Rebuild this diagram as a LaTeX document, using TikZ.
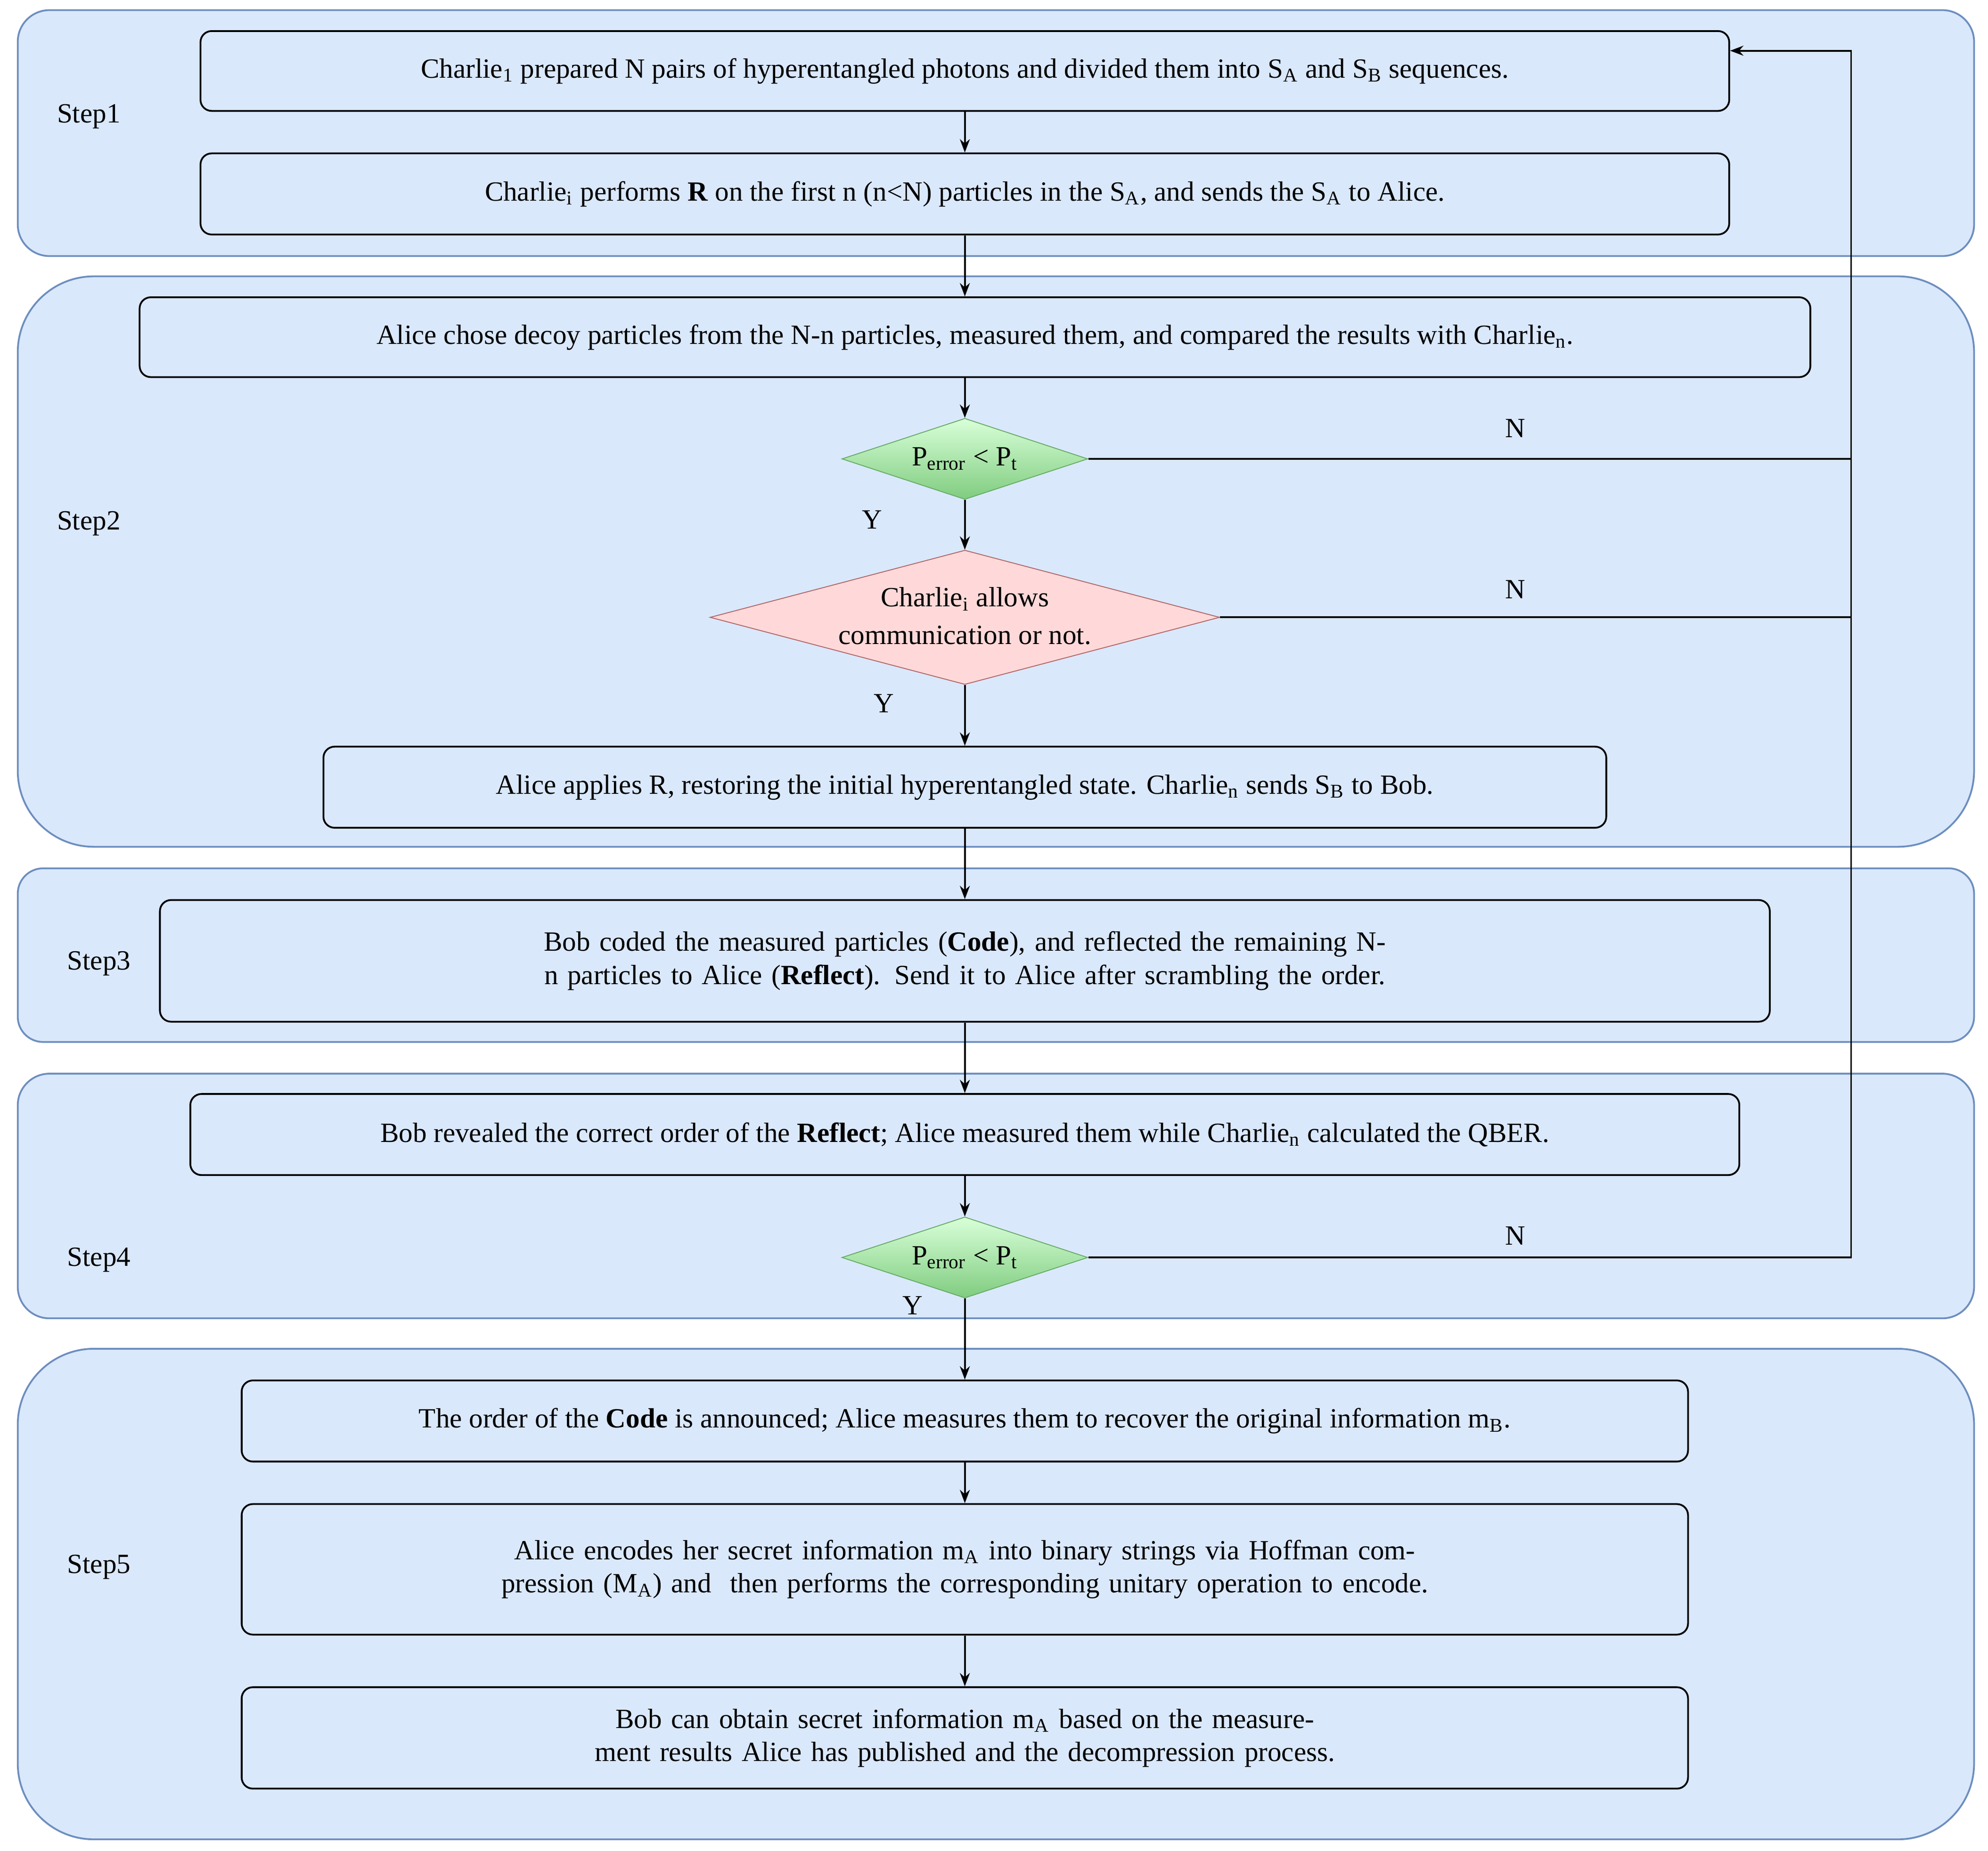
\documentclass[tikz,border=0pt]{standalone}
\usepackage{fontspec}
\setmainfont{Liberation Serif}
\usetikzlibrary{shapes.geometric,arrows.meta}
\definecolor{stepfill}{HTML}{DAE8FC}
\definecolor{stepdraw}{HTML}{6C8EBF}
\begin{document}
\begin{tikzpicture}[x=0.02cm,y=-0.02cm,
  every node/.style={font=\fontsize{12.5}{15}\selectfont},
  panel/.style={fill=stepfill,draw=stepdraw,line width=0.8pt},
  box/.style={draw=black,fill=stepfill,rounded corners=5pt,line width=0.8pt,align=center,inner sep=2pt},
  gdia/.style={diamond,draw=green!45!black!60,top color=green!15!white,bottom color=green!60!black!50,shading angle=0,
     minimum width=3.88cm,minimum height=1.28cm,inner sep=0pt,aspect=3},
  arr/.style={-{Stealth[length=6pt]},line width=0.8pt},
  ln/.style={line width=0.8pt}]
\useasboundingbox (0,0) rectangle (1568,1460);
% step panels
\draw[panel,rounded corners=0.5cm] (14,8) rectangle (1557,202);
\draw[panel,rounded corners=1.2cm] (14,218) rectangle (1557,668);
\draw[panel,rounded corners=0.4cm] (14,685) rectangle (1557,822);
\draw[panel,rounded corners=0.5cm] (14,847) rectangle (1557,1040);
\draw[panel,rounded corners=1.2cm] (14,1064) rectangle (1557,1451);
\node (s1) at (70,92) {Step1};
\node (s2) at (70,413) {Step2};
\node (s3) at (78,760) {Step3};
\node (s4) at (78,994) {Step4};
\node (s5) at (78,1236) {Step5};
% boxes
\node[box,minimum width=24.12cm,minimum height=1.26cm] (b1) at (761,56) {Charlie\textsubscript{1} prepared N pairs of hyperentangled photons and divided them into S\textsubscript{A} and S\textsubscript{B} sequences.};
\node[box,minimum width=24.12cm,minimum height=1.28cm] (b2) at (761,153) {Charlie\textsubscript{i} performs \textbf{R} on the first n (n<N) particles in the S\textsubscript{A}, and sends the S\textsubscript{A} to Alice.};
\node[box,minimum width=26.36cm,minimum height=1.26cm] (b3) at (769,266) {Alice chose decoy particles from the N-n particles, measured them, and compared the results with Charlie\textsubscript{n}.};
\node[gdia] (d1) at (761,362) {P\textsubscript{error} < P\textsubscript{t}};
\node[diamond,draw=red!50!black!60,fill=red!15,minimum width=8.04cm,minimum height=2.12cm,inner sep=0pt,aspect=3.8,align=center] (d2) at (761,487) {};
\node[align=center] (d2t) at (761,486) {Charlie\textsubscript{i} allows\\[2pt]communication or not.};
\node[box,minimum width=20.24cm,minimum height=1.28cm] (b4) at (761,621) {Alice applies R, restoring the initial hyperentangled state. Charlie\textsubscript{n} sends S\textsubscript{B} to Bob.};
\node[box,minimum width=25.4cm,minimum height=1.92cm,text width=25.2cm] (b5) at (761,758) {Bob coded the measured particles (\textbf{Code}), and reflected the remaining N-n particles to Alice (\textbf{Reflect}). Send it to Alice after scrambling the order.};
\node[box,minimum width=24.44cm,minimum height=1.28cm] (b6) at (761,895) {Bob revealed the correct order of the \textbf{Reflect}; Alice measured them while Charlie\textsubscript{n} calculated the QBER.};
\node[gdia] (d3) at (761,992) {P\textsubscript{error} < P\textsubscript{t}};
\node[box,minimum width=22.82cm,minimum height=1.28cm] (b7) at (761,1121) {The order of the \textbf{Code} is announced; Alice measures them to recover the original information m\textsubscript{B}.};
\node[box,minimum width=22.82cm,minimum height=2.06cm,text width=22.4cm] (b8) at (761,1238) {Alice encodes her secret information m\textsubscript{A} into binary strings via Hoffman compression (M\textsubscript{A}) and~ then performs the corresponding unitary operation to encode.};
\node[box,minimum width=22.82cm,minimum height=1.6cm,text width=22.4cm] (b9) at (761,1371) {Bob can obtain secret information m\textsubscript{A} based on the measurement results Alice has published and the decompression process.};
% vertical arrows
\draw[arr] (b1.south -| 761,0) -- (b2.north -| 761,0);
\draw[arr] (b2.south -| 761,0) -- (b3.north -| 761,0);
\draw[arr] (b3.south -| 761,0) -- (d1.north);
\draw[arr] (d1.south) -- (d2.north);
\draw[arr] (d2.south) -- (b4.north -| 761,0);
\draw[arr] (b4.south -| 761,0) -- (b5.north -| 761,0);
\draw[arr] (b5.south -| 761,0) -- (b6.north -| 761,0);
\draw[arr] (b6.south -| 761,0) -- (d3.north);
\draw[arr] (d3.south) -- (b7.north -| 761,0);
\draw[arr] (b7.south -| 761,0) -- (b8.north -| 761,0);
\draw[arr] (b8.south -| 761,0) -- (b9.north -| 761,0);
% feedback
\coordinate (c1) at (1460,362);
\coordinate (c2) at (1460,487);
\coordinate (c3) at (1460,992);
\coordinate (ctop) at (1460,40);
\draw[ln] (d1.east) -- (c1);
\draw[ln] (d2.east) -- (c2);
\draw[arr] (d3.east) -- (c3) -- (ctop) -- (b1.east |- ctop);
% labels
\node (n1) at (1195,338) {N};
\node (n2) at (1195,465) {N};
\node (n3) at (1195,975) {N};
\node (y1) at (688,410) {Y};
\node (y2) at (697,555) {Y};
\node (y3) at (720,1030) {Y};
\end{tikzpicture}
\end{document}
